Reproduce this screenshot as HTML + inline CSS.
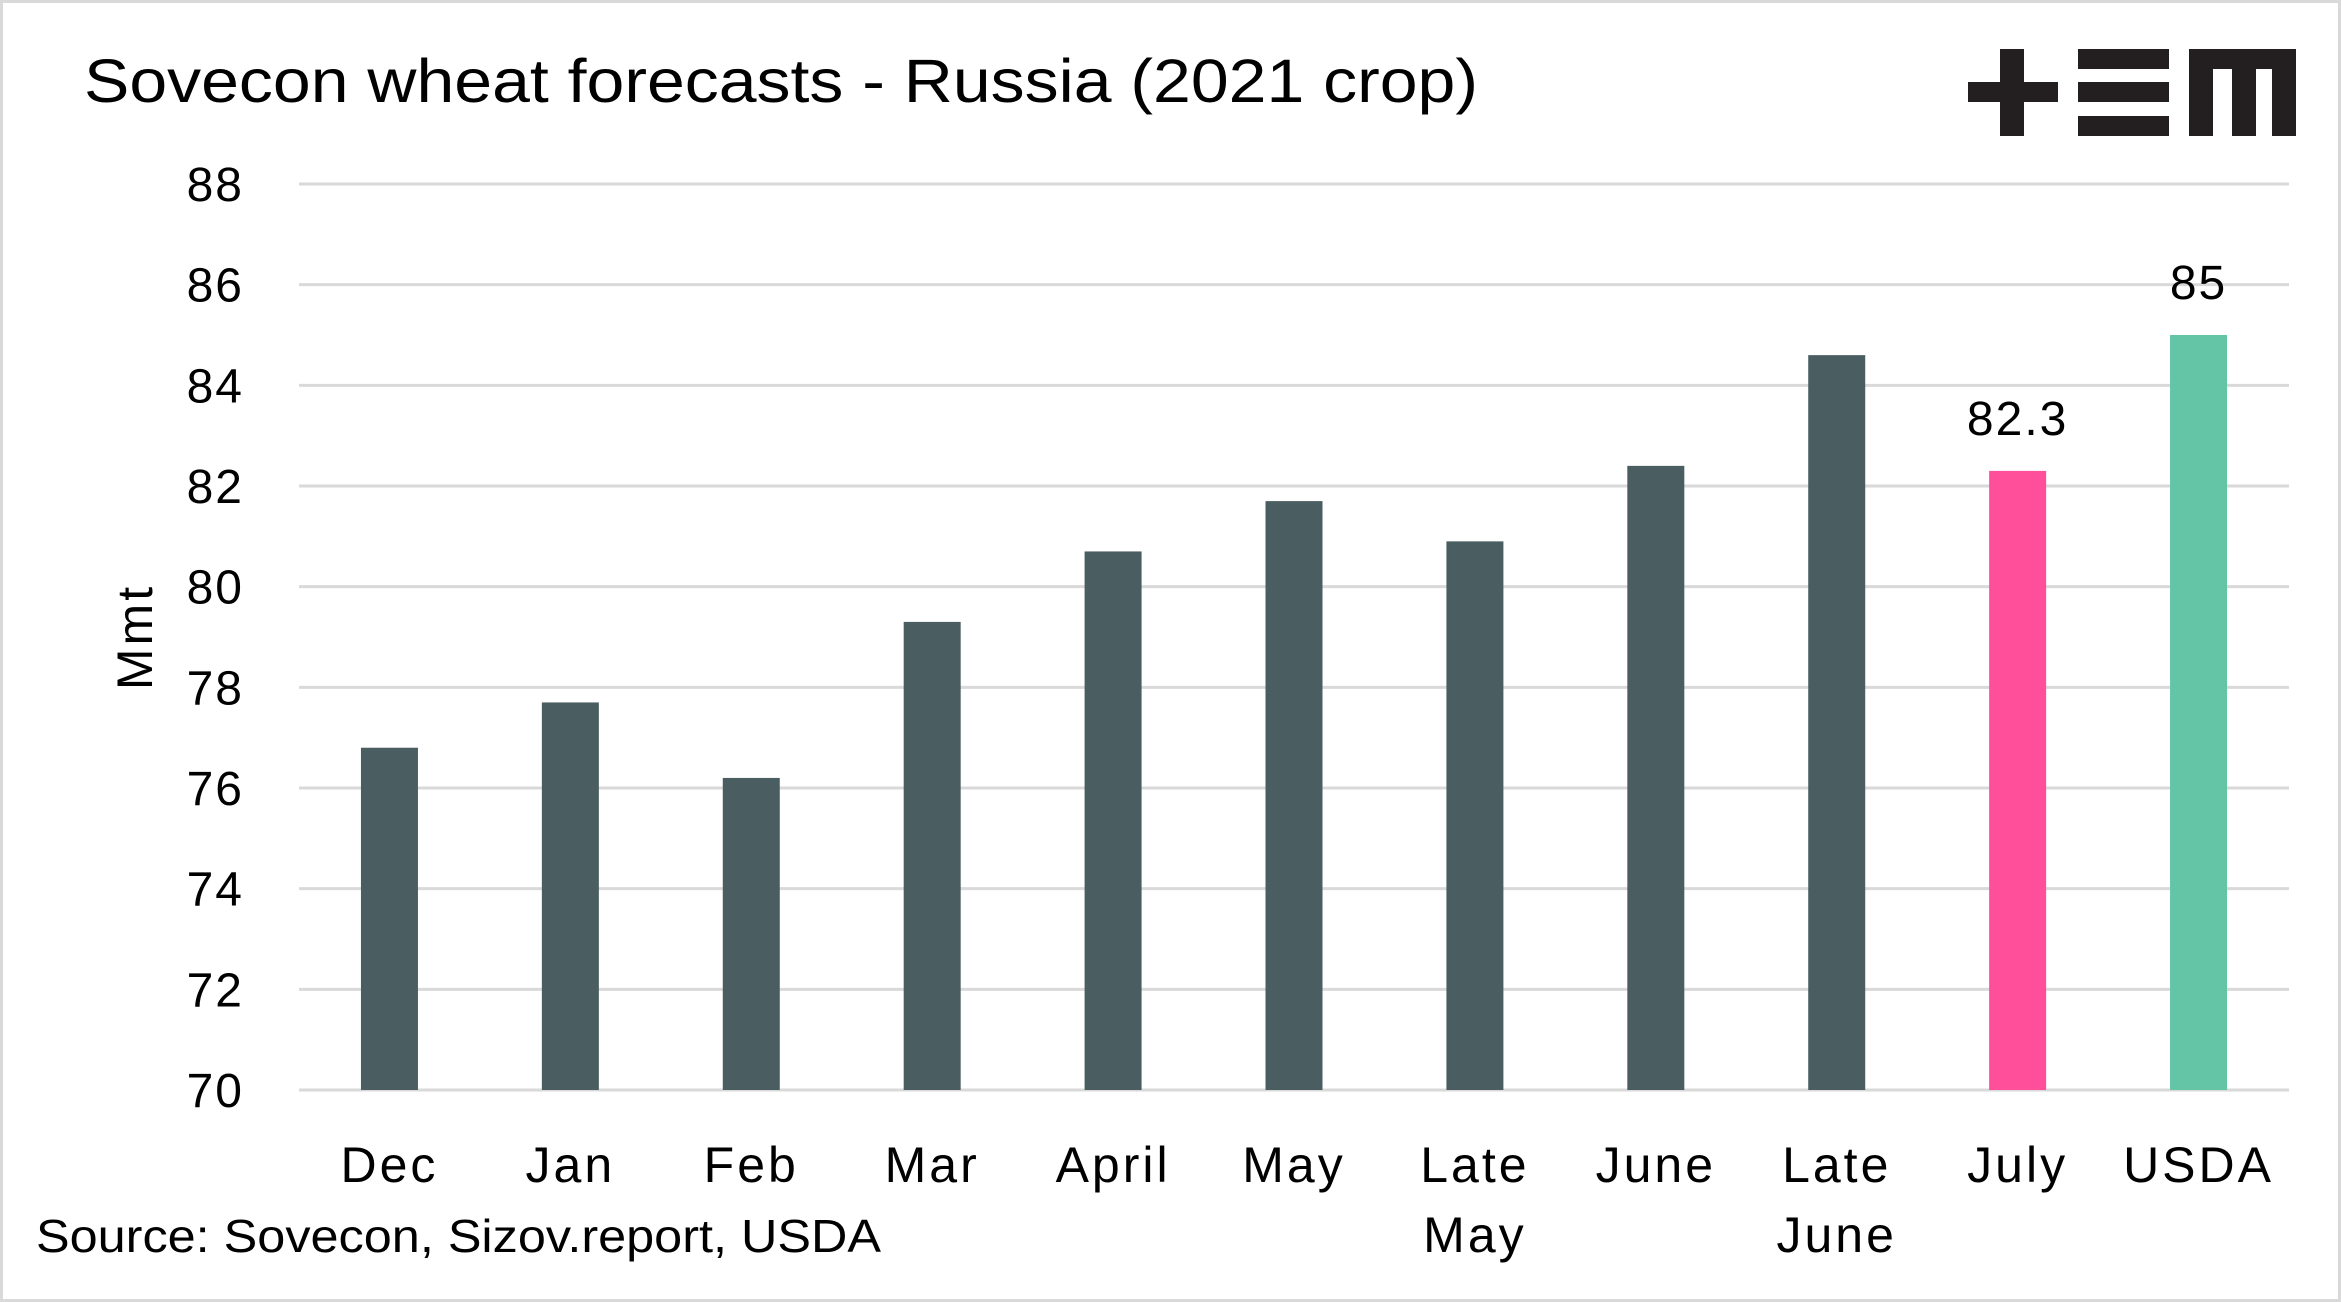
<!DOCTYPE html>
<html><head><meta charset="utf-8"><style>
html,body{margin:0;padding:0;background:#fff;}
body{width:2341px;height:1302px;overflow:hidden;font-family:"Liberation Sans",sans-serif;}
#frame{position:absolute;left:0;top:0;width:2335px;height:1296px;border:3px solid #d9d9d9;}
</style></head><body>
<div id="frame"></div>
<svg id="chart" width="2341" height="1302" style="position:absolute;left:0;top:0">
<text x="84" y="102" font-size="61" fill="#000" textLength="1394" lengthAdjust="spacingAndGlyphs">Sovecon wheat forecasts - Russia (2021 crop)</text>
<g fill="#231f20">
<rect x="2000" y="49" width="24" height="87"/><rect x="1968" y="82" width="90" height="20"/>
<rect x="2078" y="49" width="91" height="20"/><rect x="2078" y="82" width="91" height="20"/><rect x="2078" y="116" width="91" height="20"/>
<rect x="2189" y="49" width="107" height="20"/><rect x="2189" y="49" width="24" height="87"/><rect x="2232" y="49" width="24" height="87"/><rect x="2272" y="49" width="24" height="87"/>
</g>
<g id="grid"></g><g id="bars"></g><g id="labels"></g>
<text transform="translate(152,637) rotate(-90)" text-anchor="middle" font-size="50" letter-spacing="3">Mmt</text>
<text x="36" y="1252" font-size="46" textLength="845" lengthAdjust="spacingAndGlyphs">Source: Sovecon, Sizov.report, USDA</text>
</svg>
<script>
const categories=[["Dec"],["Jan"],["Feb"],["Mar"],["April"],["May"],["Late","May"],["June"],["Late","June"],["July"],["USDA"]];
const values=[76.8,77.7,76.2,79.3,80.7,81.7,80.9,82.4,84.6,82.3,85];
const colors=["#4a5e61","#4a5e61","#4a5e61","#4a5e61","#4a5e61","#4a5e61","#4a5e61","#4a5e61","#4a5e61","#ff4f9a","#63c5a6"];
const dataLabels=[null,null,null,null,null,null,null,null,null,"82.3","85"];
const yTicks=[70,72,74,76,78,80,82,84,86,88];
const NS="http://www.w3.org/2000/svg";
const x0=299,x1=2289,yMin=70,yMax=88,py0=1090,py1=184;
const band=(x1-x0)/categories.length;
function y(v){return py0-(v-yMin)/(yMax-yMin)*(py0-py1);}
function xc(i){return x0+band*(i+0.5);}
function mk(t,a,p){const e=document.createElementNS(NS,t);for(const k in a)e.setAttribute(k,a[k]);p.appendChild(e);return e;}
const g=document.getElementById('grid'),b=document.getElementById('bars'),l=document.getElementById('labels');
yTicks.forEach(t=>{
 const ln=mk('line',{x1:x0,x2:x1,y1:y(t),y2:y(t),stroke:'#d9d9d9','stroke-width':3},g);
 
 
 const tx=mk('text',{x:244,y:y(t)+17,'text-anchor':'end','font-size':48,'letter-spacing':2},g);
 tx.textContent=t;
 
 
});
values.forEach((v,i)=>{
 const w=57;
 const r=mk('rect',{x:xc(i)-w/2,y:y(v),width:w,height:py0-y(v),fill:colors[i]},b);
 
 
 categories[i].forEach((s,j)=>{
  const t=mk('text',{x:xc(i),y:1182+j*70,'text-anchor':'middle','font-size':50,'letter-spacing':3},l);
  t.textContent=s;
  
  
 });
 if(dataLabels[i]){
  const t=mk('text',{x:xc(i),y:y(v)-36,'text-anchor':'middle','font-size':48,'letter-spacing':2},l);
  t.textContent=dataLabels[i];
  
  
 }
});
</script>
</body></html>
